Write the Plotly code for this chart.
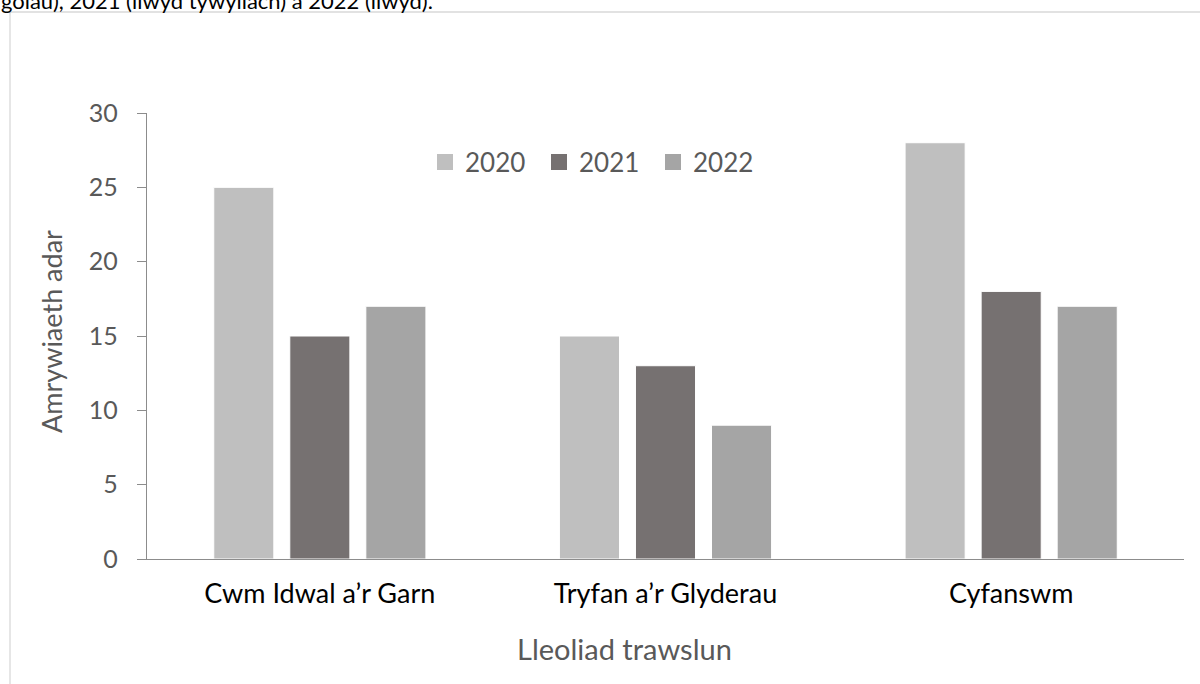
import plotly.graph_objects as go

categories = ["Cwm Idwal a’r Garn", "Tryfan a’r Glyderau", "Cyfanswm"]
years = ["2020", "2021", "2022"]
values_2020 = [25, 15, 28]
values_2021 = [15, 13, 18]
values_2022 = [17, 9, 17]
colors = ["#BFBFBF", "#767171", "#A5A5A5"]
y_ticks = [0, 5, 10, 15, 20, 25, 30]
y_title = "Amrywiaeth adar"
x_title = "Lleoliad trawslun"
caption = "golau), 2021 (llwyd tywyllach) a 2022 (llwyd)."

FONT = "Lato"
W, H = 1200, 684
L, R, T, B = 147, 1184, 113, 559
PW, PH = R - L, B - T


def px(x):
    return (x - L) / PW


def py(y):
    return (B - y) / PH


fig = go.Figure()
series = [values_2020, values_2021, values_2022]
for name, vals, col in zip(years, series, colors):
    fig.add_trace(go.Bar(
        x=categories, y=vals, name=name, showlegend=False,
        marker=dict(color=col, line=dict(color="white", width=1)),
        hoverinfo="x+y+name",
    ))
# legend entries with larger square symbols
for name, col in zip(years, colors):
    fig.add_trace(go.Scatter(
        x=[None], y=[None], mode="markers", name=name,
        marker=dict(symbol="square", size=16, color=col),
        showlegend=True, hoverinfo="skip",
    ))

fig.update_layout(
    width=W, height=H,
    margin=dict(l=L, r=W - R, t=T, b=H - B, pad=0),
    paper_bgcolor="white", plot_bgcolor="white",
    barmode="group", bargap=0.34, bargroupgap=0.21,
    font=dict(family=FONT, color="#595959"),
    showlegend=True,
    legend=dict(
        orientation="h", x=px(425), xanchor="left", y=py(162), yanchor="middle",
        font=dict(family=FONT, size=26, color="#595959"),
        entrywidth=69, entrywidthmode="pixels",
        bgcolor="rgba(0,0,0,0)", itemclick=False, itemdoubleclick=False,
    ),
    xaxis=dict(
        showline=True, linecolor="#8C8C8C", linewidth=1.3,
        ticks="", showgrid=False, zeroline=False,
        tickfont=dict(family=FONT, size=27, color="#000000"),
        ticklabelstandoff=10,
    ),
    yaxis=dict(
        range=[0, 30], tickvals=y_ticks, showline=True, linecolor="#8C8C8C",
        linewidth=1.3, ticks="outside", ticklen=9, tickcolor="#8C8C8C",
        tickwidth=1.3, showgrid=False, zeroline=False,
        tickfont=dict(family=FONT, size=25, color="#595959"),
        ticklabelstandoff=14,
    ),
    shapes=[dict(
        type="rect", xref="paper", yref="paper",
        x0=px(10), x1=px(1230), y0=py(720), y1=py(12),
        line=dict(color="#D9D9D9", width=1.3), fillcolor="rgba(0,0,0,0)",
        layer="below",
    )],
    annotations=[
        dict(text=y_title, xref="paper", yref="paper", x=px(51), y=py(332),
             xanchor="center", yanchor="middle", textangle=-90, showarrow=False,
             font=dict(family=FONT, size=27, color="#595959")),
        dict(text=x_title, xref="paper", yref="paper", x=px(624), y=py(648),
             xanchor="center", yanchor="middle", showarrow=False,
             font=dict(family=FONT, size=29, color="#595959")),
        dict(text=caption, xref="paper", yref="paper", x=px(0), y=py(15),
             xanchor="left", yanchor="bottom", showarrow=False, borderpad=0,
             font=dict(family=FONT, size=22, color="#000000")),
    ],
)

fig.write_html("out.html", config={"displayModeBar": False},
               post_script="document.body.style.margin='0';")
